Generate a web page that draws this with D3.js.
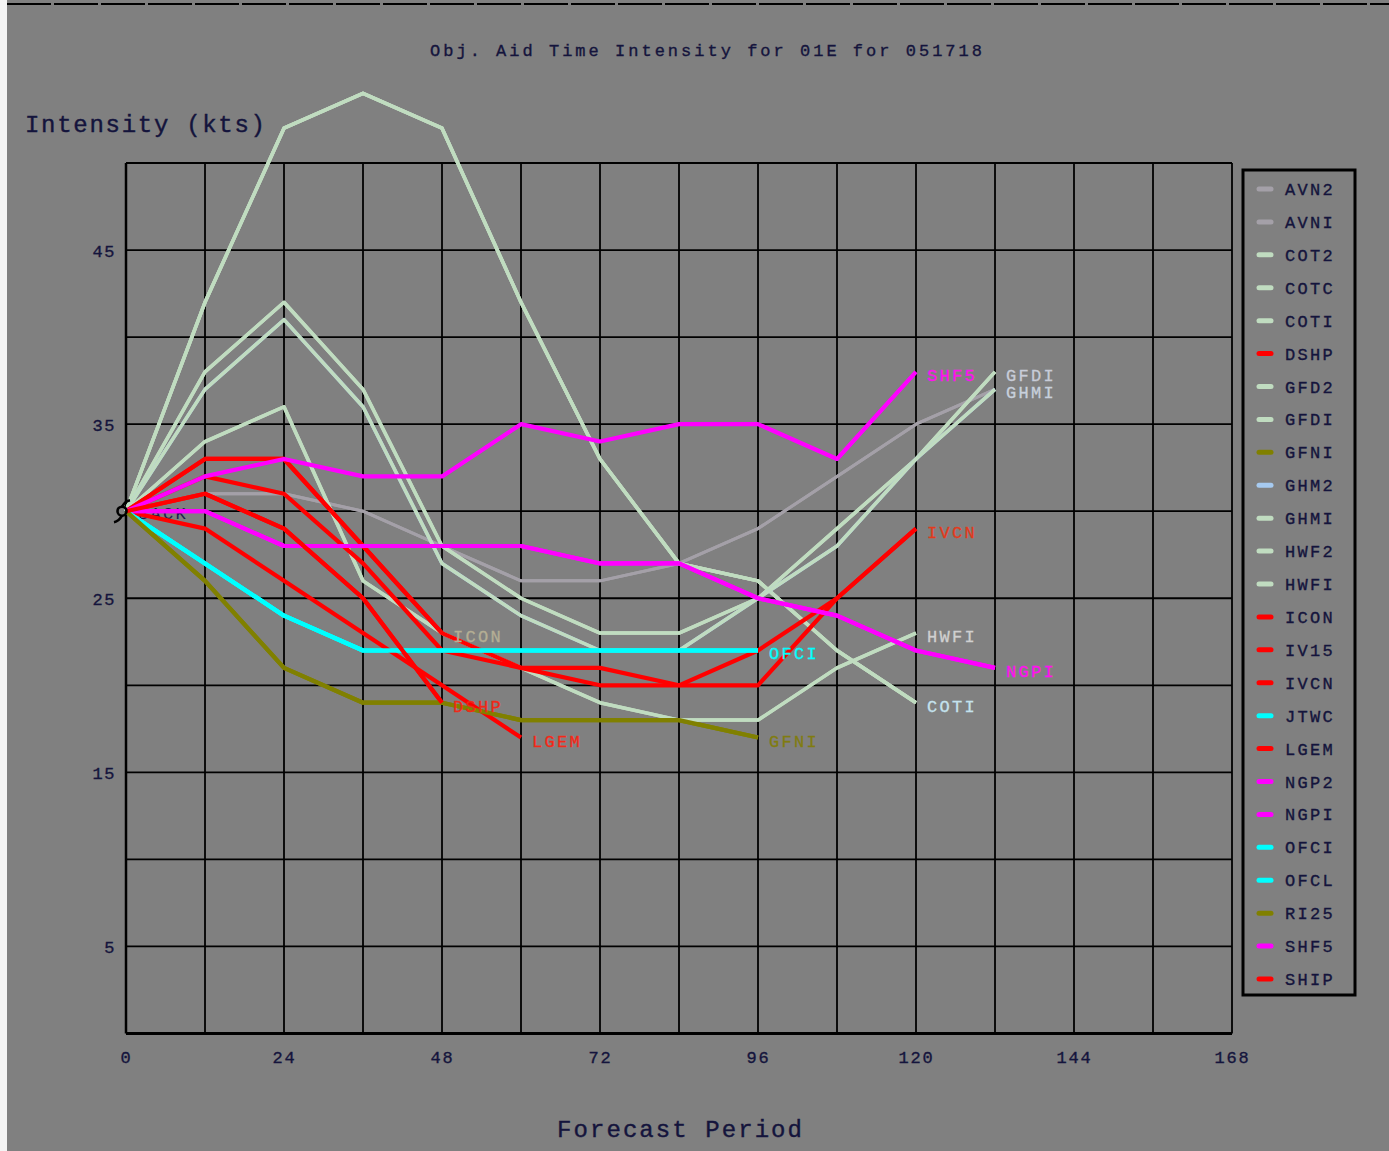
<!DOCTYPE html>
<html>
<head>
<meta charset="utf-8">
<script src="https://cdn.jsdelivr.net/npm/d3@7"></script>
<style>
  html, body { margin: 0; padding: 0; background: #808080; }
  svg { display: block; }
  text { font-family: "Liberation Mono", "DejaVu Sans Mono", monospace; paint-order: stroke; }
</style>
</head>
<body>
<svg id="chart" width="1389" height="1151"></svg>
<script>
// ---------------- DATA ----------------
const taus = [0, 12, 24, 36, 48, 60, 72, 84, 96, 108, 120, 132];

const AVN2 = [30, 31, 31, 30, 28, 26, 26, 27, 29, 32, 35, 37];
const AVNI = [30, 31, 31, 30, 28, 26, 26, 27, 29, 32, 35, 37];
const COT2 = [30, 42, 52, 54, 52, 42, 33, 27, 26, 22, 19];
const COTC = [30, 42, 52, 54, 52, 42, 33, 27, 26, 22, 19];
const COTI = [30, 42, 52, 54, 52, 42, 33, 27, 26, 22, 19];
const DSHP = [30, 31, 29, 25, 19];
const GFD2 = [30, 38, 42, 37, 28, 25, 23, 23, 25, 29, 33, 38];
const GFDI = [30, 38, 42, 37, 28, 25, 23, 23, 25, 29, 33, 38];
const GFNI = [30, 26, 21, 19, 19, 18, 18, 18, 17];
const GHM2 = [30, 37, 41, 36, 27, 24, 22, 22, 25, 28, 33, 37];
const GHMI = [30, 37, 41, 36, 27, 24, 22, 22, 25, 28, 33, 37];
const HWF2 = [30, 34, 36, 26, 23, 21, 19, 18, 18, 21, 23];
const HWFI = [30, 34, 36, 26, 23, 21, 19, 18, 18, 21, 23];
const ICON = [30, 33, 33, 28, 23];
const IV15 = [30, 32, 31, 27, 22, 21, 20, 20, 20, 25, 29];
const IVCN = [30, 33, 33, 28, 23, 21, 21, 20, 22, 25, 29];
const JTWC = [30, 27, 24, 22, 22, 22, 22, 22, 22];
const LGEM = [30, 29, 26, 23, 20, 17];
const NGP2 = [30, 30, 28, 28, 28, 28, 27, 27, 25, 24, 22, 21];
const NGPI = [30, 30, 28, 28, 28, 28, 27, 27, 25, 24, 22, 21];
const OFCI = [30, 27, 24, 22, 22, 22, 22, 22, 22];
const OFCL = [30, 27, 24, 22, 22, 22, 22, 22, 22];
const RI25 = [30, 26, 21, 19, 19, 18, 18, 18, 17];
const SHF5 = [30, 32, 33, 32, 32, 35, 34, 35, 35, 33, 38];
const SHIP = [30, 31, 29, 25, 19];

const aidNames = ["AVN2","AVNI","COT2","COTC","COTI","DSHP","GFD2","GFDI","GFNI","GHM2",
  "GHMI","HWF2","HWFI","ICON","IV15","IVCN","JTWC","LGEM","NGP2","NGPI","OFCI","OFCL",
  "RI25","SHF5","SHIP"];
const aidValues = [AVN2, AVNI, COT2, COTC, COTI, DSHP, GFD2, GFDI, GFNI, GHM2,
  GHMI, HWF2, HWFI, ICON, IV15, IVCN, JTWC, LGEM, NGP2, NGPI, OFCI, OFCL,
  RI25, SHF5, SHIP];

const endLabelNames = ["COTI","DSHP","GFDI","GFNI","GHMI","HWFI","ICON","IVCN","LGEM","NGPI","OFCI","SHF5"];

const xTickLabels = [0, 24, 48, 72, 96, 120, 144, 168];
const yTickLabels = [5, 15, 25, 35, 45];

const titleText = "Obj. Aid Time Intensity for 01E for 051718";
const yTitleText = "Intensity (kts)";
const xTitleText = "Forecast Period";
const originText = "BACK";

// ---------------- STYLES ----------------
const GREEN = "#c0dcc0", GRAY = "#a4a0a8", RED = "#ff0000", MAG = "#ff00ff",
      CYAN = "#00ffff", OLIVE = "#808000", SKY = "#a6caf0";
const colorOf = {
  AVN2: GRAY, AVNI: GRAY, COT2: GREEN, COTC: GREEN, COTI: GREEN, DSHP: RED,
  GFD2: GREEN, GFDI: GREEN, GFNI: OLIVE, GHM2: SKY, GHMI: GREEN, HWF2: GREEN,
  HWFI: GREEN, ICON: RED, IV15: RED, IVCN: RED, JTWC: CYAN, LGEM: RED,
  NGP2: MAG, NGPI: MAG, OFCI: CYAN, OFCL: CYAN, RI25: OLIVE, SHF5: MAG, SHIP: RED
};
const widthOf = c => (c === GRAY ? 3 : (c === GREEN || c === SKY) ? 3.5 : 4.2);
const labelColor = {
  COTI: "#c4e2ee", DSHP: "#f02818", GFDI: "#c8ccd8", GFNI: "#807c10", GHMI: "#c8d0dc",
  HWFI: "#d0d0d0", ICON: "#b4ae94", IVCN: "#e23a1c", LGEM: "#f42818", NGPI: "#ff10f0",
  OFCI: "#00ffff", SHF5: "#ff10f0"
};
const TEXT_DARK = "#14143c";

// ---------------- CHART ----------------
const svg = d3.select("#chart");
const W = 1389, H = 1151;

svg.append("rect").attr("x", 0).attr("y", 0).attr("width", W).attr("height", H).attr("fill", "#808080");
svg.append("rect").attr("x", 0).attr("y", 0).attr("width", 7).attr("height", H).attr("fill", "#f4f4f4");
svg.append("line").attr("x1", 7).attr("x2", W).attr("y1", 4).attr("y2", 4)
  .attr("stroke", "#000").attr("stroke-width", 2).attr("stroke-dasharray", "44,3");

const x = d3.scaleLinear().domain([0, 168]).range([126, 1232]);
const y = d3.scaleLinear().domain([0, 50]).range([1033.5, 163]);

// grid
const g = svg.append("g");
g.selectAll("line.v").data(d3.range(0, 169, 12)).join("line")
  .attr("x1", d => x(d)).attr("x2", d => x(d))
  .attr("y1", y(50)).attr("y2", y(0))
  .attr("stroke", "#000").attr("stroke-width", d => d === 0 ? 2.5 : 1.8);
g.selectAll("line.h").data(d3.range(0, 51, 5)).join("line")
  .attr("x1", x(0)).attr("x2", x(168))
  .attr("y1", d => y(d)).attr("y2", d => y(d))
  .attr("stroke", "#000").attr("stroke-width", d => d === 0 ? 3 : 1.8);

// axes (labels only)
const xAxis = d3.axisBottom(x).tickValues(xTickLabels).tickSize(0).tickPadding(0).tickFormat(d3.format("d"));
const xa = svg.append("g").attr("transform", `translate(0, ${y(0)})`).call(xAxis);
xa.select(".domain").remove();
xa.selectAll("text").attr("font-size", 17).attr("fill", TEXT_DARK)
  .attr("stroke", TEXT_DARK).attr("stroke-width", 0.35)
  .attr("letter-spacing", 1.8).attr("dy", null).attr("y", 29)
  .attr("font-family", "Liberation Mono, monospace");

const yAxis = d3.axisLeft(y).tickValues(yTickLabels).tickSize(0).tickPadding(0).tickFormat(d3.format("d"));
const ya = svg.append("g").attr("transform", `translate(${x(0) - 10}, 0)`).call(yAxis);
ya.select(".domain").remove();
ya.selectAll("text").attr("font-size", 17).attr("fill", TEXT_DARK)
  .attr("stroke", TEXT_DARK).attr("stroke-width", 0.35)
  .attr("letter-spacing", 1.5).attr("dy", "0.36em")
  .attr("font-family", "Liberation Mono, monospace");

// titles
svg.append("text").attr("x", 430).attr("y", 56).attr("font-size", 17)
  .attr("fill", TEXT_DARK).attr("stroke", TEXT_DARK).attr("stroke-width", 0.35)
  .attr("textLength", 552).attr("lengthAdjust", "spacing").text(titleText);
svg.append("text").attr("x", 25).attr("y", 132).attr("font-size", 24)
  .attr("fill", TEXT_DARK).attr("stroke", TEXT_DARK).attr("stroke-width", 0.4)
  .attr("textLength", 240).attr("lengthAdjust", "spacing").text(yTitleText);
svg.append("text").attr("x", 557).attr("y", 1137).attr("font-size", 24)
  .attr("fill", TEXT_DARK).attr("stroke", TEXT_DARK).attr("stroke-width", 0.4)
  .attr("textLength", 245).attr("lengthAdjust", "spacing").text(xTitleText);

// origin label (under the lines)
svg.append("text").attr("x", x(0) + 12).attr("y", y(30) + 8).attr("font-size", 17)
  .attr("fill", "#1c1c50").attr("letter-spacing", 2.3).text(originText);

// series
const series = aidNames.map((name, i) => ({
  name,
  points: aidValues[i].map((v, j) => ({ t: taus[j], v })).filter(p => p.v != null)
}));
const line = d3.line().x(p => x(p.t)).y(p => y(p.v));

const lg = svg.append("g");
series.forEach(s => {
  if (s.points.length < 2) return;
  lg.append("path").attr("d", line(s.points)).attr("fill", "none")
    .attr("stroke", colorOf[s.name]).attr("stroke-width", widthOf(colorOf[s.name]))
    .attr("stroke-linejoin", "round").attr("stroke-linecap", "butt");
});

// end labels
series.filter(s => endLabelNames.includes(s.name)).forEach(s => {
  const last = s.points[s.points.length - 1];
  svg.append("text").attr("x", x(last.t) + 11).attr("y", y(last.v) + 9)
    .attr("font-size", 17).attr("letter-spacing", 2.3)
    .attr("stroke", labelColor[s.name]).attr("stroke-width", 0.3)
    .attr("fill", labelColor[s.name]).text(s.name);
});

// storm symbol at origin
const sym = svg.append("g").attr("transform", `translate(${x(0) - 4}, ${y(30)})`)
  .attr("fill", "none").attr("stroke", "#000").attr("stroke-width", 2.6);
sym.append("circle").attr("r", 4.5);
sym.append("path").attr("d", "M0,-4.5 Q3,-10 8,-11");
sym.append("path").attr("d", "M0,4.5 Q-3,10 -8,11");

// legend
const legX = 1243, legY = 170, legW = 112, legH = 825;
svg.append("rect").attr("x", legX).attr("y", legY).attr("width", legW).attr("height", legH)
  .attr("fill", "none").attr("stroke", "#000").attr("stroke-width", 3);
const legStep = (979 - 189) / (aidNames.length - 1);
const leg = svg.append("g");
aidNames.forEach((name, i) => {
  const cy = 189 + i * legStep;
  leg.append("line").attr("x1", 1259).attr("x2", 1271).attr("y1", cy).attr("y2", cy)
    .attr("stroke", colorOf[name]).attr("stroke-width", 5).attr("stroke-linecap", "round");
  leg.append("text").attr("x", 1285).attr("y", cy + 6).attr("font-size", 17)
    .attr("letter-spacing", 2.3).attr("fill", TEXT_DARK)
    .attr("stroke", TEXT_DARK).attr("stroke-width", 0.35).text(name);
});
</script>
</body>
</html>
